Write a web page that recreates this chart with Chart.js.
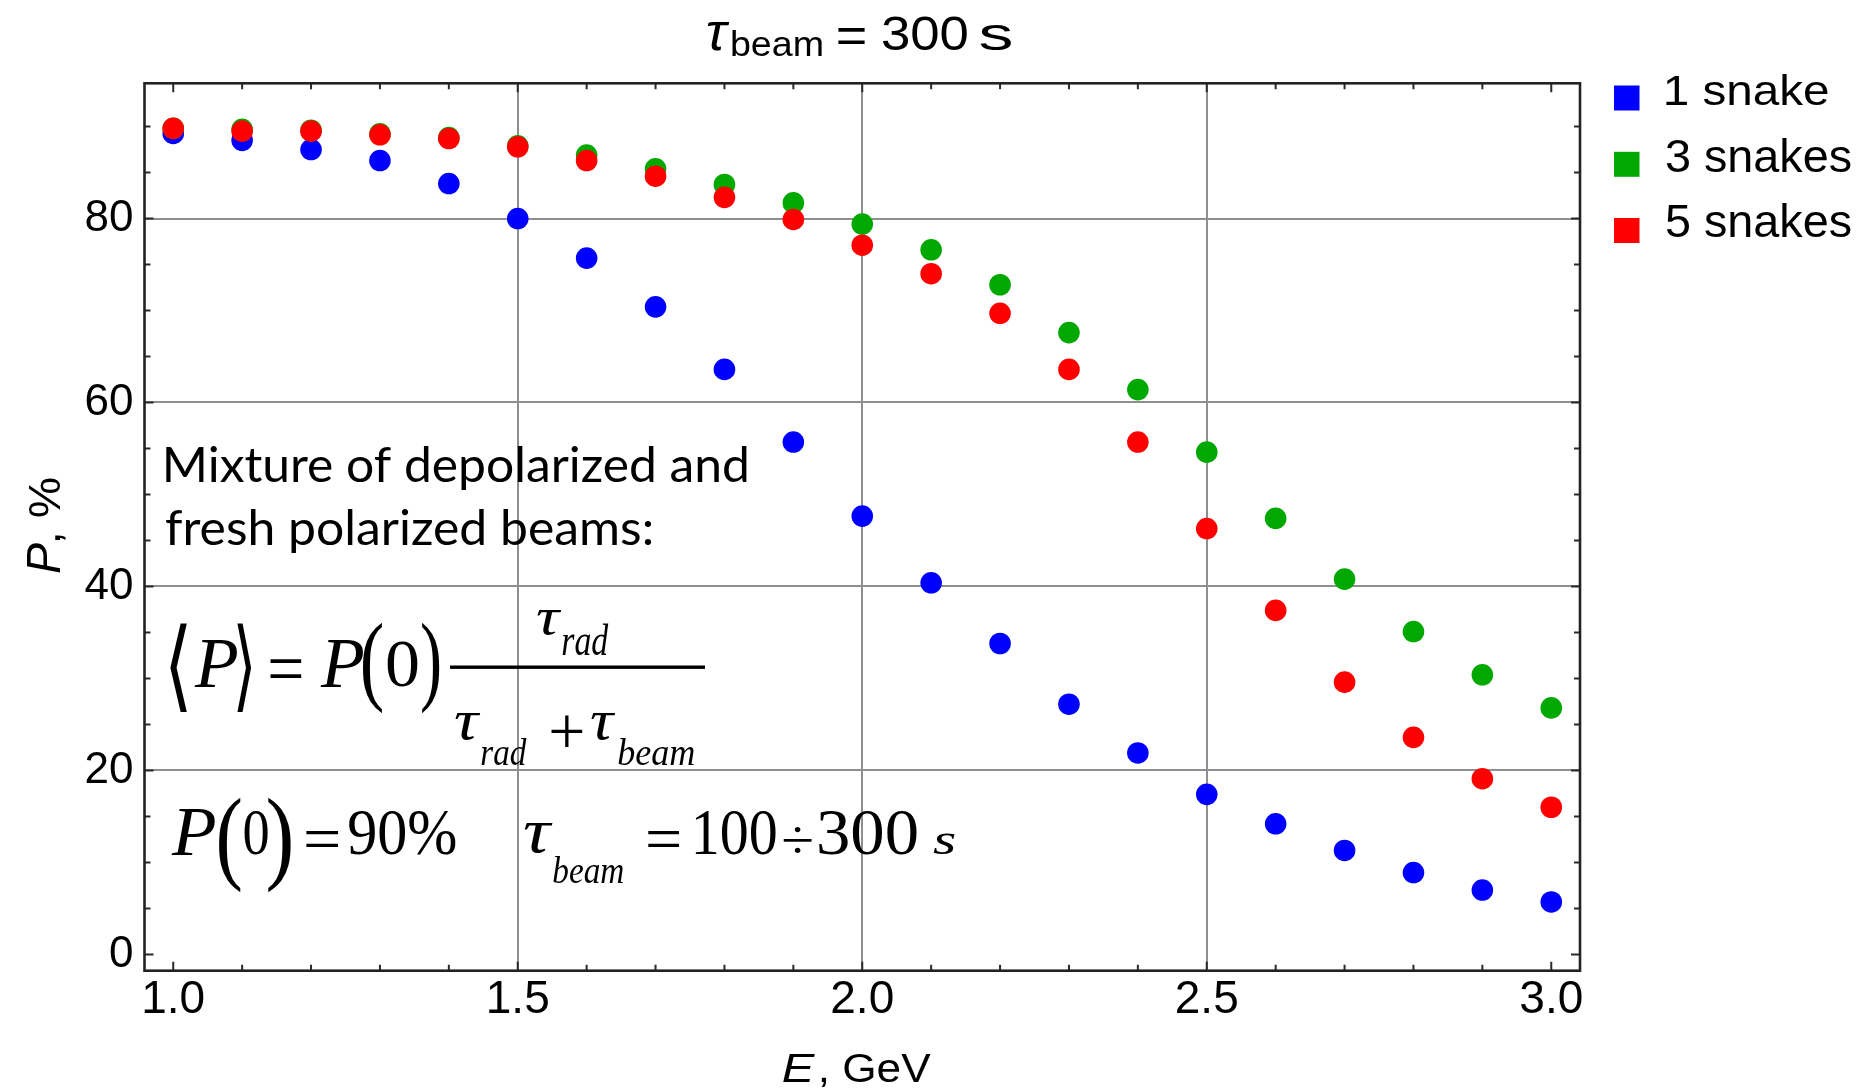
<!DOCTYPE html>
<html><head><meta charset="utf-8">
<script src="https://cdn.jsdelivr.net/npm/chart.js@4.4.0/dist/chart.umd.min.js"></script>
<style>html,body{margin:0;padding:0;background:#fff;}#wrap{width:1872px;height:1089px;}</style>
</head><body><div id="wrap"><canvas id="c" width="1872" height="1089"></canvas></div>
<script>
// ---- data ----
const energies    = [1.0,1.1,1.2,1.3,1.4,1.5,1.6,1.7,1.8,1.9,2.0,2.1,2.2,2.3,2.4,2.5,2.6,2.7,2.8,2.9,3.0];
const oneSnake    = [89.25,88.5,87.5,86.3,83.8,80.0,75.7,70.4,63.6,55.7,47.65,40.4,33.8,27.2,21.9,17.4,14.2,11.3,8.9,7.0,5.7];
const threeSnakes = [89.8,89.7,89.6,89.2,88.8,87.9,86.9,85.4,83.7,81.7,79.4,76.6,72.8,67.6,61.4,54.6,47.4,40.8,35.1,30.4,26.8];
const fiveSnakes  = [89.8,89.5,89.5,89.1,88.7,87.8,86.3,84.6,82.3,79.9,77.1,74.0,69.7,63.6,55.7,46.3,37.4,29.6,23.6,19.1,16.0];
const seriesLabels = ['1 snake','3 snakes','5 snakes'];
const seriesColors = ['#0000ff','#00a800','#ff0000'];
const xTickValues = [1.0,1.5,2.0,2.5,3.0];
const yTickValues = [0,20,40,60,80];
const xGridValues = [1.5,2.0,2.5];
const yGridValues = [20,40,60,80];

const SANS = '"Liberation Sans", Arial, sans-serif';
const SERIF = '"Liberation Serif", "DejaVu Serif", serif';

function inkBox(ctx, text, font, x0, x1, y0, y1) {
  ctx.save(); ctx.font = font; ctx.textAlign = 'left'; ctx.textBaseline = 'alphabetic';
  const m = ctx.measureText(text);
  const w = m.actualBoundingBoxLeft + m.actualBoundingBoxRight;
  const h = m.actualBoundingBoxAscent + m.actualBoundingBoxDescent;
  const sx = (x1 - x0) / w, sy = (y1 - y0) / h;
  ctx.translate(x0 + m.actualBoundingBoxLeft * sx, y0 + m.actualBoundingBoxAscent * sy);
  ctx.scale(sx, sy);
  ctx.fillText(text, 0, 0);
  ctx.restore();
}
function inkLine(ctx, text, font, x0, x1, baseline) {
  ctx.save(); ctx.font = font; ctx.textAlign = 'left'; ctx.textBaseline = 'alphabetic';
  const m = ctx.measureText(text);
  const w = m.actualBoundingBoxLeft + m.actualBoundingBoxRight;
  const sx = (x1 - x0) / w;
  ctx.translate(x0 + m.actualBoundingBoxLeft * sx, baseline);
  ctx.scale(sx, 1);
  ctx.fillText(text, 0, 0);
  ctx.restore();
}

// text layout (pixel boxes of annotation glyphs)
const titleParts = [
  ['τ', 'italic 48px ' + SANS, 707, 730, 21.7, 50],
  ['beam', '36px ' + SANS, 732, 822, 30, 56],
  ['=', '48px ' + SANS, 838, 865, 26.7, 43.3],
  ['300', '48px ' + SANS, 882, 967, 16, 50],
  ['s', '48px ' + SANS, 980, 1012, 25, 50]
];
const formula1 = [
  ['⟨', '70px ' + SERIF, 170, 187, 622, 713],
  ['P', 'italic 70px ' + SERIF, 194, 237, 640, 687],
  ['⟩', '70px ' + SERIF, 237, 252, 622, 713],
  ['=', '70px ' + SERIF, 270, 302, 658, 677],
  ['P', 'italic 70px ' + SERIF, 320, 363, 640, 687],
  ['(', '70px ' + SERIF, 363, 383, 623, 713],
  ['0', '70px ' + SERIF, 387, 418, 640, 687],
  [')', '70px ' + SERIF, 422, 440, 623, 713],
  ['τ', 'italic 70px ' + SERIF, 537, 562, 610, 635],
  ['rad', 'italic 44px ' + SERIF, 562, 609, 623, 655],
  ['τ', 'italic 70px ' + SERIF, 455, 481, 713, 740],
  ['rad', 'italic 44px ' + SERIF, 481, 527, 737, 765],
  ['+', '70px ' + SERIF, 551, 583, 715, 747],
  ['τ', 'italic 70px ' + SERIF, 591, 616, 713, 740],
  ['beam', 'italic 44px ' + SERIF, 618, 694, 737, 765]
];
const formula2 = [
  ['P', 'italic 68px ' + SERIF, 171, 215, 810, 855],
  ['(', '68px ' + SERIF, 218, 241, 797, 893],
  ['0', '68px ' + SERIF, 244, 268, 810, 855],
  [')', '68px ' + SERIF, 268, 291, 797, 893],
  ['=', '68px ' + SERIF, 306, 339, 831, 847],
  ['90%', '68px ' + SERIF, 349, 456, 810, 855],
  ['τ', 'italic 68px ' + SERIF, 524, 553, 823, 853],
  ['beam', 'italic 44px ' + SERIF, 553, 623, 855, 883],
  ['=', '68px ' + SERIF, 648, 680, 831, 847],
  ['100', '68px ' + SERIF, 695, 776, 810, 855],
  ['÷', '68px ' + SERIF, 783, 812, 826, 852],
  ['300', '68px ' + SERIF, 819, 917, 810, 855],
  ['s', 'italic 68px ' + SERIF, 933, 955, 834, 855]
];
const legendBoxes = [
  [1666, 1828, 74, 105, 98],
  [1666, 1851, 138.5, 171.7, 164.3],
  [1666, 1851, 204, 237.3, 230.5]
];

const decor = {
  id: 'decor',
  afterDatasetsDraw(chart) {
    const ctx = chart.ctx, a = chart.chartArea, xs = chart.scales.x, ys = chart.scales.y;
    ctx.save();
    ctx.strokeStyle = '#2a2a2a'; ctx.lineWidth = 2;
    for (let k = 10; k <= 30; k++) {
      const px = xs.getPixelForValue(k / 10), len = (k % 5 === 0) ? 9 : 6;
      ctx.beginPath();
      ctx.moveTo(px, a.bottom); ctx.lineTo(px, a.bottom - len);
      ctx.moveTo(px, a.top); ctx.lineTo(px, a.top + len);
      ctx.stroke();
    }
    for (let k = 0; k <= 18; k++) {
      const py = ys.getPixelForValue(k * 5), len = (k % 4 === 0) ? 9 : 6;
      ctx.beginPath();
      ctx.moveTo(a.left, py); ctx.lineTo(a.left + len, py);
      ctx.moveTo(a.right, py); ctx.lineTo(a.right - len, py);
      ctx.stroke();
    }
    ctx.lineWidth = 2.6; ctx.strokeStyle = '#222';
    ctx.strokeRect(a.left, a.top, a.right - a.left, a.bottom - a.top);
    ctx.restore();
  },
  afterDraw(chart) {
    const ctx = chart.ctx;
    ctx.save();
    ctx.fillStyle = '#000';
    titleParts.forEach(p => inkBox(ctx, ...p));
    // annotation text
    inkLine(ctx, 'Mixture of depolarized and', '48px Lato, "Open Sans", sans-serif', 166, 747, 482);
    inkLine(ctx, 'fresh polarized beams:', '48px Lato, "Open Sans", sans-serif', 166, 651, 545);
    formula1.forEach(p => inkBox(ctx, ...p));
    formula2.forEach(p => inkBox(ctx, ...p));
    // fraction bar
    ctx.fillRect(450, 665.5, 255, 3.4);
    // legend
    chart.data.datasets.forEach((ds, i) => {
      const b = legendBoxes[i];
      ctx.fillStyle = ds.backgroundColor;
      ctx.fillRect(1614, b[4] - 12.5, 25.5, 25);
      ctx.fillStyle = '#000';
      inkBox(ctx, ds.label, '44px ' + SANS, b[0], b[1], b[2], b[3]);
    });
    // axis titles
    inkBox(ctx, 'E', 'italic 40px ' + SANS, 783, 816, 1053, 1082);
    inkLine(ctx, ', GeV', '40px ' + SANS, 821, 931, 1082);
    ctx.save();
    ctx.translate(60, 525.5); ctx.rotate(-Math.PI / 2);
    inkBox(ctx, 'P', 'italic 45px ' + SANS, -47.5, -17.5, -33, 0);
    inkLine(ctx, ', %', '45px ' + SANS, -14.5, 47.5, 0);
    ctx.restore();
    ctx.restore();
  }
};

const mk = arr => energies.map((e, i) => ({ x: e, y: arr[i] }));
new Chart(document.getElementById('c'), {
  type: 'scatter',
  data: { datasets: [
    { label: seriesLabels[0], data: mk(oneSnake), backgroundColor: seriesColors[0], order: 3 },
    { label: seriesLabels[1], data: mk(threeSnakes), backgroundColor: seriesColors[1], order: 2 },
    { label: seriesLabels[2], data: mk(fiveSnakes), backgroundColor: seriesColors[2], order: 1 }
  ]},
  options: {
    responsive: false, animation: false, devicePixelRatio: 1,
    layout: { padding: { top: 83.3, right: 292, bottom: 0, left: 0 } },
    elements: { point: { radius: 10.8, hoverRadius: 10.8, borderWidth: 0, pointStyle: 'circle' } },
    plugins: { legend: { display: false }, tooltip: { enabled: false } },
    events: [],
    scales: {
      x: {
        type: 'linear', position: 'bottom', min: 0.9583, max: 3.0417,
        afterBuildTicks: s => { s.ticks = xTickValues.map(v => ({ value: v })); },
        afterFit: s => { s.height = 118.3; },
        ticks: { callback: v => Number(v).toFixed(1), color: '#000', padding: 2, maxRotation: 0, autoSkip: false,
                 font: { family: SANS, size: 46 } },
        grid: { color: c => (c.tick && xGridValues.includes(c.tick.value)) ? '#8f8f8f' : 'rgba(0,0,0,0)', lineWidth: 2, drawTicks: false },
        border: { display: false }
      },
      y: {
        type: 'linear', position: 'left', min: -1.77, max: 94.7,
        afterBuildTicks: s => { s.ticks = yTickValues.map(v => ({ value: v })); },
        afterFit: s => { s.width = 144.5; },
        ticks: { callback: v => String(v), color: '#000', padding: 11, autoSkip: false,
                 font: { family: SANS, size: 44 } },
        grid: { color: c => (c.tick && yGridValues.includes(c.tick.value)) ? '#8f8f8f' : 'rgba(0,0,0,0)', lineWidth: 2, drawTicks: false },
        border: { display: false }
      }
    }
  },
  plugins: [decor]
});
</script>
</body></html>
